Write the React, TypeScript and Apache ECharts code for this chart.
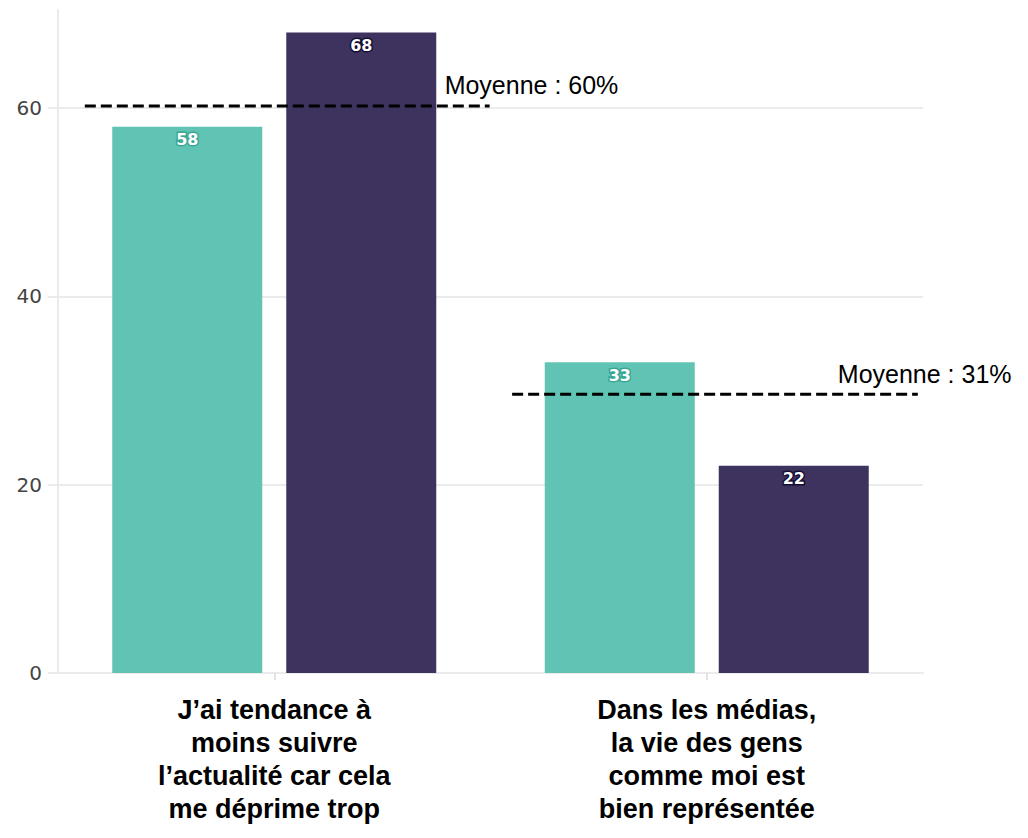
import React, { useEffect, useRef } from "react";
import * as echarts from "echarts";

const categories = [
  "J’ai tendance à\nmoins suivre\nl’actualité car cela\nme déprime trop",
  "Dans les médias,\nla vie des gens\ncomme moi est\nbien représentée",
];
const seriesA = [58, 33];
const seriesB = [68, 22];
const yTicks = [0, 20, 40, 60];
const meanValues = [60.2, 29.6];
const meanLabels = ["Moyenne : 60%", "Moyenne : 31%"];
const meanSpans = [
  [0.031, 0.499],
  [0.525, 0.994],
];

const TEAL = "#61c3b3";
const PURPLE = "#3d335e";

export default function App() {
  const ref = useRef<HTMLDivElement>(null);
  useEffect(() => {
    document.body.style.margin = "0";
    if (!ref.current) return;
    const chart = echarts.init(ref.current, undefined, { renderer: "svg" });
    const gridColor = "#ebebeb";
    const barLabel = (border: string) => ({
      show: true,
      position: "insideTop" as const,
      distance: 5,
      color: "#fff",
      fontFamily: "DejaVu Sans",
      fontWeight: "bold",
      fontSize: 16,
      textBorderColor: border,
      textBorderWidth: 3,
    });
    const option: any = {
      animation: false,
      grid: { left: 58, right: 105, top: 10, bottom: 165, containLabel: false },
      xAxis: [
        {
          type: "category",
          data: categories,
          axisLine: { show: true, lineStyle: { color: gridColor, width: 2 } },
          axisTick: { show: true, alignWithLabel: true, length: 7, lineStyle: { color: "#e2e2e2", width: 2 } },
          axisLabel: {
            margin: 20,
            color: "#000",
            fontFamily: "Liberation Sans",
            fontWeight: "bold",
            fontSize: 27,
            lineHeight: 33,
            align: "center",
          },
        },
        { type: "value", min: 0, max: 1, show: false },
      ],
      yAxis: {
        type: "value",
        min: 0,
        max: 70.4,
        interval: 20,
        axisLine: { show: true, lineStyle: { color: gridColor, width: 2 } },
        axisTick: { show: true, length: 10, customValues: yTicks, lineStyle: { color: gridColor, width: 2 } },
        axisLabel: {
          customValues: yTicks,
          margin: 16,
          color: "#444",
          fontFamily: "DejaVu Sans",
          fontSize: 20,
        },
        splitLine: {
          show: true,
          lineStyle: { color: [gridColor, gridColor, gridColor, gridColor, "transparent"], width: 2 },
        },
      },
      series: [
        {
          type: "bar",
          name: "A",
          data: seriesA,
          barWidth: 150,
          barGap: "16%",
          itemStyle: { color: TEAL },
          label: barLabel("#3aa794"),
          z: 2,
        },
        {
          type: "bar",
          name: "B",
          data: seriesB,
          barWidth: 150,
          itemStyle: { color: PURPLE },
          label: barLabel("#160e33"),
          z: 2,
        },
        ...meanValues.map((v, i) => ({
          type: "line",
          xAxisIndex: 1,
          yAxisIndex: 0,
          data: [
            [meanSpans[i][0], v],
            [meanSpans[i][1], v],
          ],
          symbol: "none",
          lineStyle: { color: "#000", width: 3, type: [11, 5] },
          z: 5,
        })),
      ],
    };
    chart.setOption(option);
    const offsets = [
      [-45, -9],
      [-80, -8],
    ];
    const graphics = meanValues.map((v, i) => {
      const p = chart.convertToPixel({ xAxisIndex: 1, yAxisIndex: 0 } as any, [meanSpans[i][1], v]) as number[];
      return {
        type: "text",
        x: p[0] + offsets[i][0],
        y: p[1] + offsets[i][1],
        z: 10,
        style: {
          text: meanLabels[i],
          fill: "#000",
          fontFamily: "Liberation Sans",
          fontSize: 25,
          align: "left",
          verticalAlign: "bottom",
        },
      };
    });
    chart.setOption({ graphic: graphics });
    return () => chart.dispose();
  }, []);
  return <div ref={ref} style={{ width: 1028, height: 838 }} />;
}
